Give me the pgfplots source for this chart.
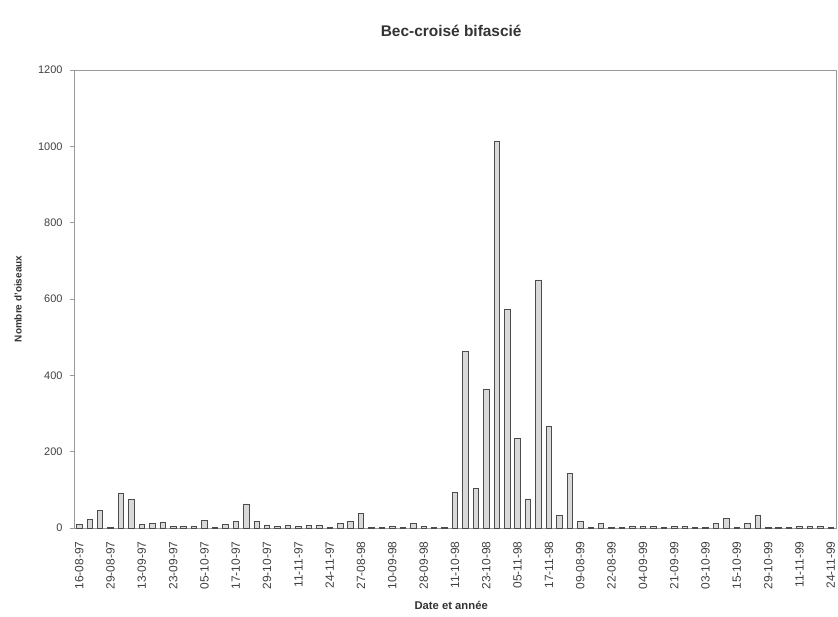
\documentclass[border=0pt]{standalone}
\usepackage{fontspec}
\setmainfont{Liberation Sans}
\usepackage{pgfplots}
\pgfplotsset{compat=1.18}
\usepackage{pgfplotstable}

% Counts per observation day (index 0..72)
\pgfplotstableread{
idx n
0 9
1 22
2 46
3 1
4 90
5 75
6 9
7 12
8 15
9 4
10 4
11 4
12 19
13 1
14 10
15 16
16 63
17 17
18 8
19 5
20 7
21 5
22 7
23 7
24 2
25 11
26 16
27 39
28 2
29 2
30 3
31 2
32 11
33 3
34 2
35 1
36 94
37 463
38 103
39 364
40 1012
41 572
42 234
43 76
44 650
45 266
46 33
47 142
48 17
49 2
50 11
51 2
52 2
53 4
54 5
55 3
56 1
57 4
58 4
59 2
60 1
61 11
62 25
63 2
64 11
65 33
66 2
67 1
68 2
69 5
70 4
71 3
72 2
}\counts

\definecolor{frame}{gray}{0.6}
\definecolor{barfill}{gray}{0.85}
\definecolor{barline}{gray}{0.3}

\begin{document}
\begin{tikzpicture}
\useasboundingbox (-74bp,-89bp) rectangle (764bp,528bp);
\begin{axis}[
  at={(0,0)}, anchor=south west,
  scale only axis,
  width=762bp, height=458bp,
  xmin=-0.5, xmax=72.5,
  ymin=0, ymax=1200,
  ytick={0,200,...,1200},
  xtick={0,3,...,72},
  xticklabels={16-08-97,29-08-97,13-09-97,23-09-97,05-10-97,17-10-97,29-10-97,11-11-97,24-11-97,27-08-98,10-09-98,28-09-98,11-10-98,23-10-98,05-11-98,17-11-98,09-08-99,22-08-99,04-09-99,21-09-99,03-10-99,15-10-99,29-10-99,11-11-99,24-11-99},
  x tick label style={rotate=90, anchor=east, font=\fontsize{12}{14}\selectfont, text=black!75},
  y tick label style={font=\fontsize{11}{13}\selectfont, text=black!75},
  /pgf/number format/assume math mode=true,
  /pgf/number format/1000 sep={},
  axis line style={frame, line width=0.8pt},
  tick style={frame, line width=0.6pt},
  x tick style={draw=none},
  tick align=outside,
  major tick length=4bp,
  ytick pos=left,
  xticklabel shift=6bp,
  yticklabel shift=4bp,
  title={Bec-croisé bifascié},
  title style={font=\fontsize{15.5}{18}\selectfont\bfseries, text=black!80, at={(0.495,1)}, anchor=center, yshift=33bp},
  xlabel={Date et année},
  xlabel style={font=\fontsize{11.3}{13}\selectfont\bfseries, text=black!80, at={(0.495,0)}, anchor=center, yshift=-77bp},
  ylabel={Nombre d'oiseaux},
  ylabel style={font=\fontsize{10}{12}\selectfont\bfseries, text=black!80, at={(0,0.5)}, anchor=center, yshift=56bp},
]
\addplot[ybar, bar width=5.5bp, fill=barfill, draw=barline, line width=0.8pt] table[x=idx, y=n] {\counts};
\end{axis}
\end{tikzpicture}
\end{document}
